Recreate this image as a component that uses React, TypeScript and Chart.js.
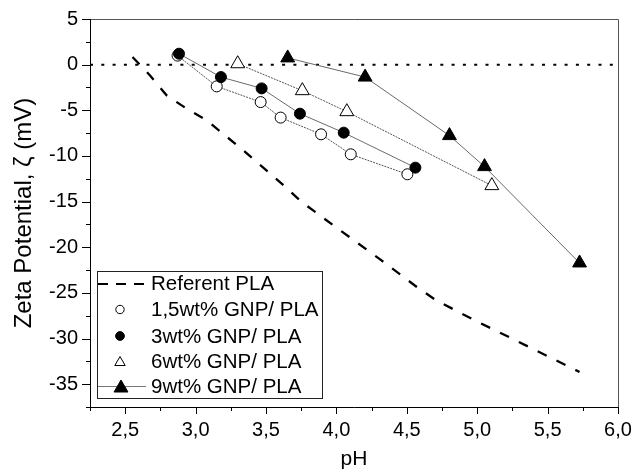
import { useEffect, useRef } from 'react';
import { Chart, registerables } from 'chart.js';

Chart.register(...registerables);

const FONT = "'Liberation Sans', Arial, sans-serif";

// Referent PLA (dashed curve)
const refPH = [2.552, 2.675, 2.794, 2.936, 3.078, 3.339, 3.611, 3.753, 4.026, 4.303, 4.571, 4.708, 4.981, 5.258, 5.526, 5.727];
const refZeta = [0.83, -1.17, -3.36, -4.82, -6.10, -9.38, -13.03, -15.04, -18.14, -21.24, -24.35, -25.81, -28.0, -30.08, -32.13, -33.66];

// 1,5wt% GNP/ PLA (open circles)
const gnp15PH = [2.872, 3.150, 3.462, 3.604, 3.891, 4.102, 4.504];
const gnp15Zeta = [0.99, -2.38, -4.10, -5.80, -7.63, -9.82, -12.01];

// 3wt% GNP/ PLA (filled circles)
const gnp3PH = [2.882, 3.180, 3.469, 3.741, 4.052, 4.561];
const gnp3Zeta = [1.20, -1.36, -2.60, -5.37, -7.45, -11.28];

// 6wt% GNP/ PLA (open triangles)
const gnp6PH = [3.299, 3.758, 4.074, 5.104];
const gnp6Zeta = [0.1, -2.85, -5.15, -13.25];

// 9wt% GNP/ PLA (filled triangles)
const gnp9PH = [3.654, 4.204, 4.803, 5.052, 5.727];
const gnp9Zeta = [0.74, -1.36, -7.77, -11.17, -21.72];

// zero reference line
const zeroPH = [2.25, 6.0];
const zeroZeta = [0, 0];

const legendLabels = ['Referent PLA', '1,5wt% GNP/ PLA', '3wt% GNP/ PLA', '6wt% GNP/ PLA', '9wt% GNP/ PLA'];
const xTitle = 'pH';
const yTitle = 'Zeta Potential, ζ (mV)';

const X_MIN = 2.25;
const X_MAX = 6.0;
const Y_MIN = -37.5;
const Y_MAX = 5;

const zip = (xs: number[], ys: number[]) => xs.map((x, i) => ({ x, y: ys[i] }));
const isMajorX = (v: number) => Math.abs(v * 2 - Math.round(v * 2)) < 1e-6;
const isMajorY = (v: number) => Math.abs(v / 5 - Math.round(v / 5)) < 1e-6;

function drawTri(ctx: CanvasRenderingContext2D, x: number, y: number, r: number, filled: boolean) {
  ctx.beginPath();
  for (let i = 0; i < 3; i++) {
    const a = (i * 2 * Math.PI) / 3;
    const px = x + Math.sin(a) * r;
    const py = y - Math.cos(a) * r;
    if (i === 0) ctx.moveTo(px, py);
    else ctx.lineTo(px, py);
  }
  ctx.closePath();
  ctx.fillStyle = filled ? '#000' : '#fff';
  ctx.fill();
  ctx.strokeStyle = '#000';
  ctx.lineWidth = 1;
  ctx.stroke();
}

function drawCircle(ctx: CanvasRenderingContext2D, x: number, y: number, r: number, filled: boolean) {
  ctx.beginPath();
  ctx.arc(x, y, r, 0, Math.PI * 2);
  ctx.fillStyle = filled ? '#000' : '#fff';
  ctx.fill();
  ctx.strokeStyle = '#000';
  ctx.lineWidth = 1;
  ctx.stroke();
}

const framePlugin = {
  id: 'frameAndLegend',
  afterDraw(chart: any) {
    const ctx: CanvasRenderingContext2D = chart.ctx;
    const { left, right, top, bottom } = chart.chartArea;
    const xs = chart.scales.x;
    const ys = chart.scales.y;
    ctx.save();
    // frame
    ctx.lineWidth = 1;
    ctx.strokeStyle = '#555';
    ctx.beginPath();
    ctx.moveTo(left, top + 0.5);
    ctx.lineTo(right + 0.5, top + 0.5);
    ctx.lineTo(right + 0.5, bottom);
    ctx.stroke();
    ctx.strokeStyle = '#000';
    ctx.beginPath();
    ctx.moveTo(left + 0.5, top);
    ctx.lineTo(left + 0.5, bottom + 0.5);
    ctx.lineTo(right + 1, bottom + 0.5);
    ctx.stroke();
    // ticks (outside)
    ctx.beginPath();
    xs.ticks.forEach((t: any) => {
      const px = Math.round(xs.getPixelForValue(t.value)) + 0.5;
      const len = isMajorX(t.value) ? 7 : 4;
      ctx.moveTo(px, bottom);
      ctx.lineTo(px, bottom + len);
    });
    ys.ticks.forEach((t: any) => {
      const py = Math.round(ys.getPixelForValue(t.value)) + 0.5;
      const len = isMajorY(t.value) ? 8 : 4;
      ctx.moveTo(left - len, py);
      ctx.lineTo(left, py);
    });
    ctx.stroke();

    // legend
    const lx = 97, ly = 271, lw = 225, lh = 127;
    ctx.fillStyle = '#fff';
    ctx.fillRect(lx, ly, lw, lh);
    ctx.strokeStyle = '#222';
    ctx.lineWidth = 1;
    ctx.strokeRect(lx + 0.5, ly + 0.5, lw, lh);
    const rows = [283, 309.5, 336, 361, 386];
    const mx = 120;
    // Referent PLA sample
    ctx.save();
    ctx.strokeStyle = '#000';
    ctx.lineWidth = 2;
    ctx.setLineDash([10, 8]);
    ctx.beginPath();
    ctx.moveTo(lx + 1, rows[0] + 1);
    ctx.lineTo(146, rows[0] + 1);
    ctx.stroke();
    ctx.restore();
    drawCircle(ctx, mx, rows[1], 4.2, false);
    drawCircle(ctx, mx, rows[2], 4.4, true);
    drawTri(ctx, mx, rows[3] + 1.5, 6, false);
    ctx.strokeStyle = '#777';
    ctx.lineWidth = 1;
    ctx.beginPath();
    ctx.moveTo(lx + 1, rows[4] + 0.5);
    ctx.lineTo(146, rows[4] + 0.5);
    ctx.stroke();
    drawTri(ctx, mx + 1, rows[4] + 2, 8, true);
    ctx.fillStyle = '#000';
    ctx.font = `20.5px ${FONT}`;
    ctx.textAlign = 'left';
    ctx.textBaseline = 'middle';
    legendLabels.forEach((lab, i) => ctx.fillText(lab, 151, rows[i] + 1));
    ctx.restore();
  },
};

export default function App() {
  const ref = useRef<HTMLCanvasElement | null>(null);
  useEffect(() => {
    if (!ref.current) return;
    const chart = new Chart(ref.current, {
      type: 'scatter',
      data: {
        datasets: [
          {
            label: legendLabels[4],
            data: zip(gnp9PH, gnp9Zeta),
            showLine: true,
            borderColor: '#6a6a6a',
            borderWidth: 1,
            pointStyle: 'triangle',
            pointRadius: 8,
            pointBackgroundColor: '#000',
            pointBorderColor: '#000',
            pointBorderWidth: 1,
          },
          {
            label: legendLabels[3],
            data: zip(gnp6PH, gnp6Zeta),
            showLine: true,
            borderColor: '#555',
            borderWidth: 1,
            borderDash: [2, 1],
            pointStyle: 'triangle',
            pointRadius: 8,
            pointBackgroundColor: '#fff',
            pointBorderColor: '#000',
            pointBorderWidth: 1,
          },
          {
            label: legendLabels[2],
            data: zip(gnp3PH, gnp3Zeta),
            showLine: true,
            borderColor: '#6a6a6a',
            borderWidth: 1,
            pointStyle: 'circle',
            pointRadius: 5.5,
            pointBackgroundColor: '#000',
            pointBorderColor: '#000',
            pointBorderWidth: 1,
          },
          {
            label: legendLabels[1],
            data: zip(gnp15PH, gnp15Zeta),
            showLine: true,
            borderColor: '#555',
            borderWidth: 1,
            borderDash: [2, 1],
            pointStyle: 'circle',
            pointRadius: 5.5,
            pointBackgroundColor: '#fff',
            pointBorderColor: '#000',
            pointBorderWidth: 1,
          },
          {
            label: legendLabels[0],
            data: zip(refPH, refZeta),
            showLine: true,
            borderColor: '#000',
            borderWidth: 2.3,
            borderDash: [10, 11],
            pointRadius: 0,
            tension: 0,
          },
          {
            label: 'zero',
            data: zip(zeroPH, zeroZeta),
            showLine: true,
            borderColor: '#000',
            borderWidth: 2,
            borderDash: [3, 8.3],
            pointRadius: 0,
          },
        ],
      },
      options: {
        responsive: false,
        animation: false,
        events: [],
        layout: { padding: { left: 0, top: 19, right: 16, bottom: 0 } },
        plugins: { legend: { display: false }, tooltip: { enabled: false } },
        scales: {
          x: {
            type: 'linear',
            min: X_MIN,
            max: X_MAX,
            border: { display: false },
            grid: { display: false, drawTicks: false },
            ticks: {
              stepSize: 0.25,
              autoSkip: false,
              maxRotation: 0,
              padding: 11,
              color: '#000',
              font: { family: FONT, size: 20 },
              callback: (v: any) => (isMajorX(Number(v)) ? Number(v).toFixed(1).replace('.', ',') : ''),
            },
            title: {
              display: true,
              text: xTitle,
              color: '#000',
              font: { family: FONT, size: 21 },
              padding: { top: 0, bottom: 3 },
            },
            afterFit: (s: any) => {
              s.height = 68;
              s.paddingLeft = 0;
              s.paddingRight = 0;
            },
          },
          y: {
            type: 'linear',
            min: Y_MIN,
            max: Y_MAX,
            border: { display: false },
            grid: { display: false, drawTicks: false },
            ticks: {
              stepSize: 2.5,
              autoSkip: false,
              padding: 12,
              color: '#000',
              font: { family: FONT, size: 20 },
              callback: (v: any) => (isMajorY(Number(v)) ? String(Math.round(Number(v))) : ''),
            },
            title: {
              display: true,
              text: yTitle,
              color: '#000',
              font: { family: FONT, size: 24 },
              padding: { top: 10, bottom: 0 },
            },
            afterFit: (s: any) => {
              s.width = 90;
              s.paddingTop = 0;
              s.paddingBottom = 0;
            },
          },
        },
      },
      plugins: [framePlugin],
    } as any);
    return () => chart.destroy();
  }, []);
  return (
    <div style={{ position: 'fixed', left: 0, top: 0, width: 634, height: 475, background: '#fff' }}>
      <canvas ref={ref} width={634} height={475} style={{ display: 'block' }} />
    </div>
  );
}
